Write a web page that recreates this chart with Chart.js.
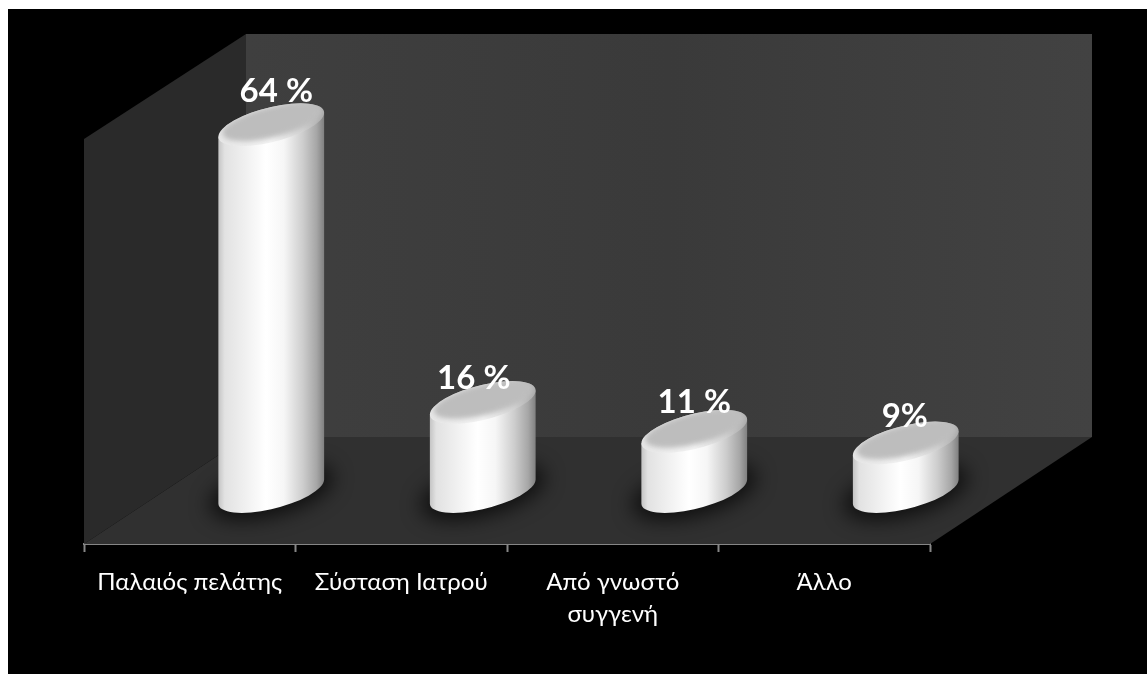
<!DOCTYPE html>
<html>
<head>
<meta charset="utf-8">
<script src="https://cdn.jsdelivr.net/npm/chart.js@4"></script>
<style>
  html, body { margin: 0; background: #fff; overflow: hidden; }
  #wrap { position: absolute; left: 8px; top: 9px; width: 1139px; height: 665px; background: #000; }
</style>
</head>
<body>
<div id="wrap"><canvas id="myChart" width="1139" height="665"></canvas></div>
<script>
const categories = ['Παλαιός πελάτης', 'Σύσταση Ιατρού', ['Από γνωστό', 'συγγενή'], 'Άλλο'];
const values = [64, 16, 11, 9];
const valueLabels = ['64 %', '16 %', '11 %', '9%'];

const fontName = 'Lato, "Open Sans", "Noto Sans", sans-serif';

// 3D look: how far the back wall sits from the front plane
const wallDepth = { x: 162, y: -107, topY: -105 };
// the cylinders stand about half way back on the floor
const barDepth = { x: 81.5, y: -49 };
const baseLift = 3.5;
// manual nudges of the value labels, they are not centred in the picture
const labelNudge = [[5, -23], [-9, -13], [0, -18], [-1, -16]];

// Draws walls and floor behind everything
const wallsPlugin = {
  id: 'walls',
  beforeDatasetsDraw(chart) {
    const { ctx, chartArea: a } = chart;
    const dx = wallDepth.x, dy = wallDepth.y, topY = a.top + wallDepth.topY;
    const poly = (pts, fill) => {
      ctx.beginPath();
      pts.forEach((p, i) => i ? ctx.lineTo(p[0], p[1]) : ctx.moveTo(p[0], p[1]));
      ctx.closePath();
      ctx.fillStyle = fill;
      ctx.fill();
    };
    const back = ctx.createLinearGradient(a.left + dx, 0, a.right + dx, 0);
    back.addColorStop(0, '#3f3f3f');
    back.addColorStop(0.5, '#3a3a3a');
    back.addColorStop(1, '#424242');
    ctx.save();
    poly([[a.left + dx, topY], [a.right + dx, topY], [a.right + dx, a.bottom + dy], [a.left + dx, a.bottom + dy]], back);
    poly([[a.left, a.top], [a.left + dx, topY], [a.left + dx, a.bottom + dy], [a.left, a.bottom]], '#2a2a2a');
    poly([[a.left, a.bottom], [a.left + dx, a.bottom + dy], [a.right + dx, a.bottom + dy], [a.right, a.bottom]], '#303030');
    ctx.restore();
  }
};

// The bar elements stay invisible, the cylinders are painted from their x, y, base and width
const cylinderPlugin = {
  id: 'cylinders',
  afterDatasetsDraw(chart) {
    const { ctx } = chart;
    const meta = chart.getDatasetMeta(0);
    meta.data.forEach((bar, i) => {
      const cx = bar.x + barDepth.x;
      const top = bar.y + barDepth.y;
      const bottom = bar.base + barDepth.y - baseLift;
      const a = bar.width / 2;
      const b = 17.8, shear = 0.226;

      ctx.save();
      // floor shadow
      ctx.filter = 'blur(10px)';
      ctx.fillStyle = 'rgba(0,0,0,0.7)';
      ctx.beginPath();
      ctx.transform(1, -shear, 0, 1, cx, bottom);
      ctx.ellipse(0, 0, a + 9, b + 7, 0, 0, Math.PI * 2);
      ctx.fill();
      ctx.restore();

      // side of the cylinder
      const side = ctx.createLinearGradient(cx - a, 0, cx + a, 0);
      side.addColorStop(0, '#c4c4c4');
      side.addColorStop(0.06, '#e2e2e2');
      side.addColorStop(0.25, '#f0f0f0');
      side.addColorStop(0.45, '#ffffff');
      side.addColorStop(0.62, '#f6f6f6');
      side.addColorStop(0.8, '#cdcdcd');
      side.addColorStop(0.93, '#a6a6a6');
      side.addColorStop(1, '#808080');
      ctx.save();
      ctx.fillStyle = side;
      ctx.beginPath();
      ctx.moveTo(cx - a, top + shear * a);
      ctx.lineTo(cx - a, bottom + shear * a);
      ctx.transform(1, -shear, 0, 1, cx, bottom);
      ctx.ellipse(0, 0, a, b, 0, Math.PI, 0, true);
      ctx.setTransform(1, 0, 0, 1, 0, 0);
      ctx.lineTo(cx + a, top - shear * a);
      ctx.lineTo(cx - a, top + shear * a);
      ctx.fill();
      // lower half of the top rim belongs to the side too
      ctx.transform(1, -shear, 0, 1, cx, top);
      ctx.beginPath();
      ctx.ellipse(0, 0, a, b, 0, 0, Math.PI * 2);
      ctx.clip();
      ctx.setTransform(1, 0, 0, 1, 0, 0);
      const rim = ctx.createLinearGradient(cx - a, 0, cx + a, 0);
      rim.addColorStop(0, '#e6e6e6');
      rim.addColorStop(0.5, '#f4f4f4');
      rim.addColorStop(0.8, '#d2d2d2');
      rim.addColorStop(1, '#a8a8a8');
      ctx.fillStyle = rim;
      ctx.fillRect(cx - a - 2, top - 40, a * 2 + 4, 80);
      // flat top face, soft edge gives the bevel
      ctx.filter = 'blur(2.5px)';
      ctx.fillStyle = '#bdbdbd';
      ctx.beginPath();
      ctx.transform(1, -shear, 0, 1, cx + 1, top - 3);
      ctx.ellipse(0, 0, a - 3, b - 2, 0, 0, Math.PI * 2);
      ctx.fill();
      ctx.restore();
    });

    // value labels on top
    ctx.save();
    ctx.font = 'bold 33px ' + fontName;
    ctx.fillStyle = '#ffffff';
    ctx.textAlign = 'center';
    ctx.textBaseline = 'alphabetic';
    meta.data.forEach((bar, i) => {
      ctx.fillText(valueLabels[i], bar.x + barDepth.x + labelNudge[i][0], bar.y + barDepth.y + labelNudge[i][1]);
    });
    ctx.restore();
  }
};

new Chart(document.getElementById('myChart'), {
  type: 'bar',
  data: {
    labels: categories,
    datasets: [{
      label: 'Ποσοστό',
      data: values,
      backgroundColor: 'transparent',
      borderWidth: 0,
      barPercentage: 0.5,
      categoryPercentage: 1
    }]
  },
  plugins: [wallsPlugin, cylinderPlugin],
  options: {
    responsive: false,
    animation: false,
    layout: { padding: { left: 76, right: 217, top: 130, bottom: 0 } },
    plugins: { legend: { display: false }, tooltip: { enabled: false } },
    scales: {
      y: { display: false, min: 0, max: 70 },
      x: {
        afterFit(scale) { scale.height = 130; },
        grid: { offset: true, drawOnChartArea: false, tickLength: 8, tickColor: '#868686', tickWidth: 2 },
        border: { color: '#868686', width: 2 },
        ticks: {
          color: '#ffffff',
          autoSkip: false,
          maxRotation: 0,
          padding: 15,
          font: { family: fontName, size: 24, lineHeight: 1.3 }
        }
      }
    }
  }
});
</script>
</body>
</html>
